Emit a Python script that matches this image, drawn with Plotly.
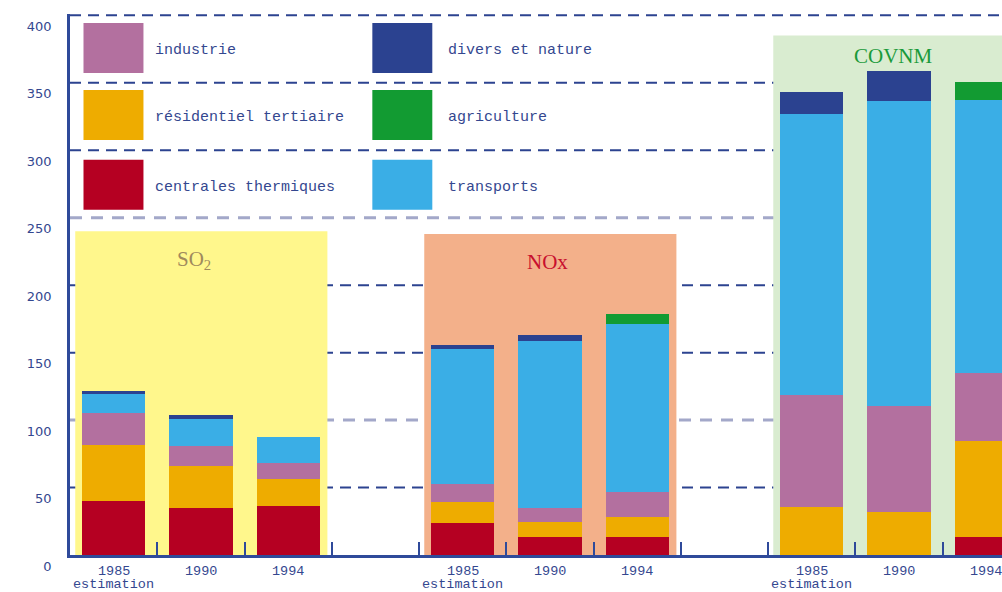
import plotly.graph_objects as go

# Emissions by pollutant, year and sector
pollutants = ["SO<sub>2</sub>", "NOx", "COVNM"]
pollutant_colors = ["#a08a5c", "#c8102e", "#1a9a3a"]
box_colors = ["#fff78c", "#f3b08a", "#d9ecd0"]
box_tops = [240, 238, 385]
years = ["1985", "1990", "1994"]
year_notes = ["estimation", "", ""]

sectors = ["centrales thermiques", "résidentiel tertiaire", "industrie",
           "transports", "agriculture", "divers et nature"]
sector_colors = ["#b50022", "#eeac00", "#b3709f", "#3aaee6", "#129b32", "#2b4290"]

# values per bar: SO2 85/90/94, NOx 85/90/94, COVNM 85/90/94
centrales = [40, 35, 36.5, 23.5, 13, 13, 0, 0, 13]
residentiel = [41.5, 31, 19.5, 16, 11.5, 15.5, 35.5, 32, 71.5]
industrie = [23.5, 15, 12, 13, 10.5, 18, 83, 78.5, 50.5]
transports = [14, 20, 19.5, 100.5, 123.5, 124.5, 208.5, 226, 202.5]
agriculture = [0, 0, 0, 0, 0, 7.5, 0, 0, 13]
divers = [2.5, 2.5, 0, 3, 4.5, 0, 16.5, 22, 0]
series = [centrales, residentiel, industrie, transports, agriculture, divers]

y_ticks = [0, 50, 100, 150, 200, 250, 300, 350, 400]
light_grid = [100, 250]

TEXT = "#34478f"
AXIS = "#2f4a9a"
MONO = "Liberation Mono"

W, H = 1002, 592
L, T, B = 69.5, 14, 36.5
plot_w, plot_h = W - L, H - T - B
slot_px = 87.3
x_max = -0.5 + plot_w / slot_px


def px_x(px):
    return (px - L) / plot_w


def px_y(py):
    return (H - B - py) / plot_h


# slot positions: three bars per pollutant, one empty slot between groups
positions = [g * 4 + k for g in range(len(pollutants)) for k in range(len(years))]

fig = go.Figure()
for name, vals, col in zip(sectors, series, sector_colors):
    fig.add_trace(go.Bar(
        x=positions, y=vals, name=name, width=0.725,
        marker=dict(color=col, line=dict(width=0)),
        hoverinfo="skip", showlegend=False,
    ))

shapes = []
annotations = []

# pollutant background panels
for g, (bc, top) in enumerate(zip(box_colors, box_tops)):
    c = g * 4 + 1
    shapes.append(dict(type="rect", xref="x", yref="y", x0=c - 1.44, x1=c + 1.45,
                       y0=0, y1=top, fillcolor=bc, line=dict(width=0), layer="below"))

label_spots = [(0.92, 219), (4.97, 217), (8.94, 370)]
for (lx, ly), label, lc in zip(label_spots, pollutants, pollutant_colors):
    annotations.append(dict(x=lx, y=ly, xref="x", yref="y", text=label, showarrow=False,
                            font=dict(family="Liberation Serif", size=21, color=lc)))

# dashed horizontal grid
for v in y_ticks[1:]:
    light = v in light_grid
    shapes.append(dict(type="line", xref="paper", yref="y", x0=0, x1=1, y0=v, y1=v,
                       layer="between",
                       line=dict(color="#a3a8c9" if light else "#2c4390",
                                 width=3 if light else 2,
                                 dash="12px,9px" if light else "11px,7px")))

# sector key, two columns of colour swatches
key_cols = [(83, 143, 153), (372, 432, 446)]
key_rows = [(23, 73), (90, 140), (160, 210)]
key_order = [[2, 1, 0], [5, 4, 3]]
for (sx0, sx1, tx), idxs in zip(key_cols, key_order):
    for (sy0, sy1), i in zip(key_rows, idxs):
        shapes.append(dict(type="rect", xref="paper", yref="paper",
                           x0=px_x(sx0), x1=px_x(sx1), y0=px_y(sy1), y1=px_y(sy0),
                           fillcolor=sector_colors[i], line=dict(width=0), layer="above"))
        annotations.append(dict(x=px_x(tx), y=px_y((sy0 + sy1) / 2 + 3), xref="paper", yref="paper",
                                text=sectors[i], showarrow=False, xanchor="left", yanchor="middle",
                                font=dict(family=MONO, size=15, color=TEXT)))

# year labels under each bar
for p, k in zip(positions, [k for _ in pollutants for k in range(len(years))]):
    annotations.append(dict(x=p, y=px_y(572), xref="x", yref="paper", text=years[k],
                            showarrow=False, yanchor="middle",
                            font=dict(family=MONO, size=13.5, color=TEXT)))
    if year_notes[k]:
        annotations.append(dict(x=p, y=px_y(585), xref="x", yref="paper", text=year_notes[k],
                                showarrow=False, yanchor="middle",
                                font=dict(family=MONO, size=13.5, color=TEXT)))

fig.update_layout(
    width=W, height=H, barmode="stack", bargap=0,
    margin=dict(l=L, r=0, t=T, b=B, pad=0),
    paper_bgcolor="white", plot_bgcolor="white",
    shapes=shapes, annotations=annotations, showlegend=False,
    xaxis=dict(range=[-0.5, x_max], tickvals=[i - 0.5 for i in range(12)],
               showticklabels=False, ticks="inside", ticklen=13, tickwidth=2,
               tickcolor=AXIS, showline=True, linecolor=AXIS, linewidth=3,
               showgrid=False, zeroline=False, fixedrange=True),
    yaxis=dict(range=[0, 401], tickvals=y_ticks, ticktext=[str(v) for v in y_ticks],
               ticks="", showline=True, linecolor=AXIS, linewidth=2.5,
               showgrid=False, zeroline=False, ticklabelshift=11, ticklabelstandoff=13,
               tickfont=dict(family="DejaVu Sans", size=13, color=TEXT), fixedrange=True),
)

fig.write_html("out.html")
